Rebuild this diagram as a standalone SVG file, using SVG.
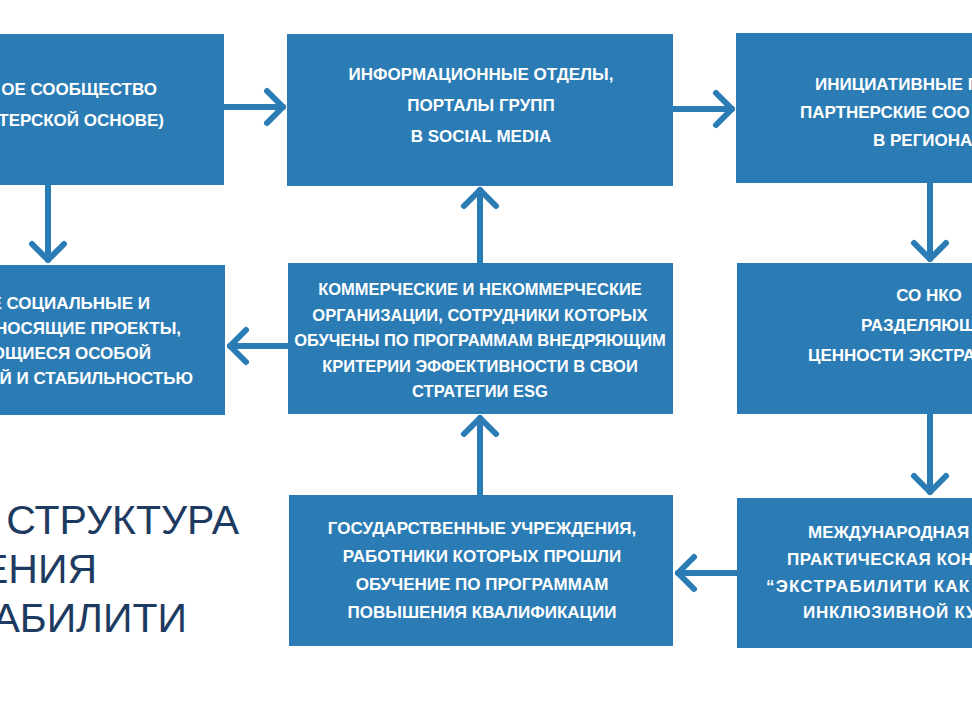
<svg xmlns="http://www.w3.org/2000/svg" width="972" height="705" viewBox="0 0 972 705">
<defs>
<style>
.box{fill:#2b7cb5;}
.t{font-family:"Liberation Sans",Arial,sans-serif;font-weight:bold;font-size:17px;fill:#ffffff;}
.c{text-anchor:middle;}
.e{text-anchor:end;}
.s{text-anchor:start;}
.sm{font-size:16.5px;}
.title{font-family:"Liberation Sans",Arial,sans-serif;font-size:41px;fill:#1d3a60;text-anchor:end;}
.con line{stroke:#2b7cb5;stroke-width:6;stroke-linecap:round;fill:none;}
</style>
<marker id="chev" markerUnits="userSpaceOnUse" viewBox="-25 -25 40 50" refX="0" refY="0" markerWidth="40" markerHeight="50" orient="auto" overflow="visible">
<path d="M-16,-16 L0,0 L-16,16" fill="none" stroke="#2b7cb5" stroke-width="6" stroke-linecap="round" stroke-linejoin="round"/>
</marker>
</defs>
<rect width="972" height="705" fill="#ffffff"/>

<g id="title">
<text class="title" x="239" y="534">СТРУКТУРА</text>
<text class="title" x="97" y="583">ЕНИЯ</text>
<text class="title" x="187" y="632">АБИЛИТИ</text>
</g>

<g id="nodeA">
<rect class="box" x="-10" y="34" width="234" height="151"/>
<text class="t e" x="157" y="95">ОЕ СООБЩЕСТВО</text>
<text class="t e" x="164" y="126">ТЕРСКОЙ ОСНОВЕ)</text>
</g>

<g id="nodeB">
<rect class="box" x="287" y="34" width="386" height="152"/>
<text class="t c" x="481" y="80">ИНФОРМАЦИОННЫЕ ОТДЕЛЫ,</text>
<text class="t c" x="481" y="111">ПОРТАЛЫ ГРУПП</text>
<text class="t c" x="481" y="142">В SOCIAL MEDIA</text>
</g>

<g id="nodeC">
<rect class="box" x="736" y="33" width="246" height="150"/>
<text class="t s" x="815" y="90">ИНИЦИАТИВНЫЕ Г</text>
<text class="t s" x="800" y="118">ПАРТНЕРСКИЕ СОО</text>
<text class="t s" x="873" y="146">В РЕГИОНА</text>
</g>

<g id="nodeD">
<rect class="box" x="-10" y="265" width="235" height="150"/>
<text class="t e" x="150" y="309">Е СОЦИАЛЬНЫЕ И</text>
<text class="t e" x="181" y="334">НОСЯЩИЕ ПРОЕКТЫ,</text>
<text class="t e" x="151" y="359">ОЩИЕСЯ ОСОБОЙ</text>
<text class="t e" x="193" y="384">Й И СТАБИЛЬНОСТЬЮ</text>
</g>

<g id="nodeE">
<rect class="box" x="288" y="263" width="385" height="151"/>
<text class="t sm c" x="480" y="295">КОММЕРЧЕСКИЕ И НЕКОММЕРЧЕСКИЕ</text>
<text class="t sm c" x="480" y="321">ОРГАНИЗАЦИИ, СОТРУДНИКИ КОТОРЫХ</text>
<text class="t sm c" x="480" y="346">ОБУЧЕНЫ ПО ПРОГРАММАМ ВНЕДРЯЮЩИМ</text>
<text class="t sm c" x="480" y="372">КРИТЕРИИ ЭФФЕКТИВНОСТИ В СВОИ</text>
<text class="t sm c" x="480" y="397">СТРАТЕГИИ ESG</text>
</g>

<g id="nodeF">
<rect class="box" x="737" y="263" width="245" height="151"/>
<text class="t c" x="929" y="301">СО НКО</text>
<text class="t s" x="861" y="331">РАЗДЕЛЯЮЩ</text>
<text class="t s" x="808" y="361">ЦЕННОСТИ ЭКСТРА</text>
</g>

<g id="nodeG">
<rect class="box" x="289" y="495" width="384" height="151"/>
<text class="t c" x="482" y="534">ГОСУДАРСТВЕННЫЕ УЧРЕЖДЕНИЯ,</text>
<text class="t c" x="482" y="562">РАБОТНИКИ КОТОРЫХ ПРОШЛИ</text>
<text class="t c" x="482" y="590">ОБУЧЕНИЕ ПО ПРОГРАММАМ</text>
<text class="t c" x="482" y="618">ПОВЫШЕНИЯ КВАЛИФИКАЦИИ</text>
</g>

<g id="nodeH">
<rect class="box" x="737" y="498" width="245" height="150"/>
<text class="t s" x="808" y="538">МЕЖДУНАРОДНАЯ</text>
<text class="t s" x="787" y="565" letter-spacing="0.5">ПРАКТИЧЕСКАЯ КОНФ</text>
<text class="t s" x="766" y="592" letter-spacing="1.2">“ЭКСТРАБИЛИТИ КАК</text>
<text class="t s" x="803" y="618" letter-spacing="0.8">ИНКЛЮЗИВНОЙ КУ</text>
</g>

<g id="connectors" class="con">
<line x1="224" y1="107" x2="283" y2="107" marker-end="url(#chev)"/>
<line x1="673" y1="109" x2="732" y2="109" marker-end="url(#chev)"/>
<line x1="48" y1="185" x2="48" y2="260" marker-end="url(#chev)"/>
<line x1="930" y1="183" x2="930" y2="259" marker-end="url(#chev)"/>
<line x1="930" y1="414" x2="930" y2="492" marker-end="url(#chev)"/>
<line x1="480" y1="263" x2="480" y2="190" marker-end="url(#chev)"/>
<line x1="480" y1="495" x2="480" y2="418" marker-end="url(#chev)"/>
<line x1="288" y1="346" x2="230" y2="346" marker-end="url(#chev)"/>
<line x1="737" y1="573" x2="678" y2="573" marker-end="url(#chev)"/>
</g>
</svg>
